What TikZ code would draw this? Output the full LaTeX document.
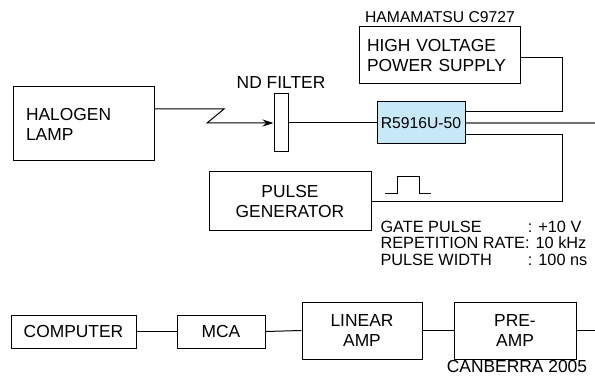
\documentclass[tikz,border=0pt]{standalone}
\usepackage{fontspec}
\setmainfont{Liberation Sans}
\usetikzlibrary{arrows.meta, positioning, calc}
\definecolor{pmtblue}{HTML}{C6E8F7}
\definecolor{sigline}{HTML}{707070}

\begin{document}
\begin{tikzpicture}[x=1pt, y=-1pt, line width=1pt,
  >={Stealth[length=11pt, width=7pt]},
  box/.style={draw, rectangle, inner sep=0pt, align=center, font=\fontsize{17.4}{20}\selectfont},
  lbl/.style={inner sep=0pt, font=\fontsize{17.4}{20}\selectfont},
  smlbl/.style={inner sep=0pt, font=\fontsize{15.7}{18}\selectfont}]

\useasboundingbox (0,0) rectangle (595,377);

% ============================================================
% Optical path: lamp -> filter -> PMT
% ============================================================
\node[box, minimum width=141pt, minimum height=74pt, text width=115pt, align=left] (lamp) at (83.5,124) {HALOGEN\\LAMP};
\node[box, minimum width=14pt, minimum height=58pt] (filter) at (281,123) {};
\node[lbl] (ndlbl) at (281,83) {ND FILTER};

\node[box, fill=pmtblue, minimum width=88pt, minimum height=42pt, font=\fontsize{15.7}{18}\selectfont] (pmt) at (421,123) {R5916U-50};

% light beam with break
\coordinate (bendA) at (224,109);
\coordinate (bendB) at (207,123);
\draw[->] ($(lamp.east)+(0,-15)$) -- (bendA) -- (bendB) -- (filter.west);
\draw (filter.east) -- (pmt.west);

% ============================================================
% High voltage and gate
% ============================================================
\node[box, minimum width=161pt, minimum height=57pt, text width=145pt, align=left] (hv) at (439.5,55.5) {HIGH VOLTAGE\\POWER SUPPLY};
\node[smlbl] (hvlbl) at (440,17) {HAMAMATSU C9727};

\node[box, minimum width=162pt, minimum height=59pt] (pg) at (290,201.5) {PULSE\\GENERATOR};

\coordinate (rail) at (562,0);
\coordinate (hvin) at ($(pmt.east)+(0,-11)$);
\coordinate (gatein) at ($(pmt.east)+(0,12)$);
\coordinate (pmtout) at (595,123);

\draw ($(hv.east)+(0,2.5)$) -| (rail |- hvin) -- (hvin);
\draw (pg.east) -| (rail |- gatein) -- (gatein);
\draw[sigline, line width=2pt] (pmt.east) -- (pmtout);

% gate pulse shape
\draw (385,194) -- (397,194) -- (397,177) -- (419,177) -- (419,194) -- (431,194);

% pulse settings
\node[inner sep=0pt, anchor=west, font=\fontsize{16.3}{16.8}\selectfont] (gateinfo) at (380,245.5) {%
  \begin{tabular}{@{}l@{}l@{}}
    GATE PULSE & \,: +10 V\\
    REPETITION RATE & : 10 kHz\\
    PULSE WIDTH & \,: 100 ns
  \end{tabular}};

% ============================================================
% Readout chain
% ============================================================
\node[box, minimum width=125pt, minimum height=33pt] (comp) at (73.5,331.5) {COMPUTER};
\node[box, minimum width=88pt, minimum height=33pt] (mca) at (221,331.5) {MCA};
\node[box, minimum width=120pt, minimum height=57pt] (linamp) at (362,330.5) {LINEAR\\AMP};
\node[box, minimum width=122pt, minimum height=57pt] (preamp) at (515,330.5) {PRE-\\AMP};
\node[lbl] (canlbl) at (517,367) {CANBERRA 2005};

\coordinate (ampin) at (595,330.5);

\draw (comp) -- (mca);
\draw (mca.east) -- (linamp.west);
\draw (linamp) -- (preamp);
\draw (preamp.east) -- (ampin);

\end{tikzpicture}
\end{document}
